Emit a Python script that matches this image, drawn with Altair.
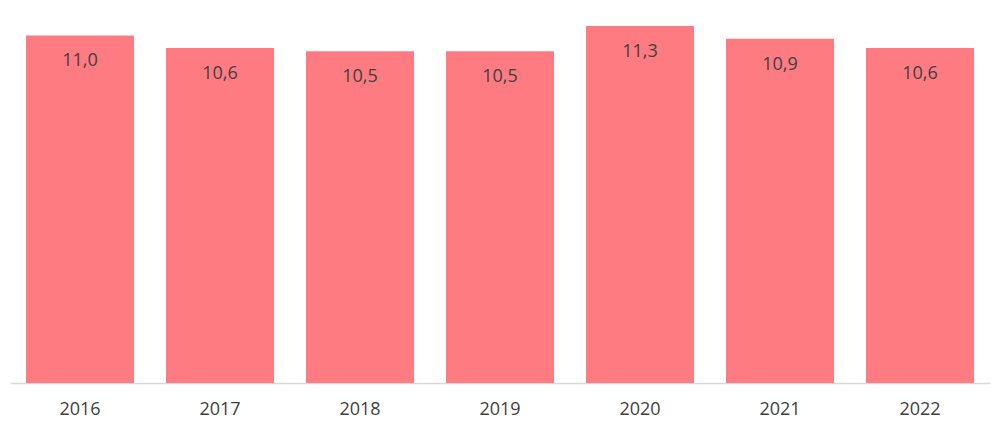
import altair as alt
import pandas as pd

years = ["2016", "2017", "2018", "2019", "2020", "2021", "2022"]
values = [11.0, 10.6, 10.5, 10.5, 11.3, 10.9, 10.6]
labels = ["11,0", "10,6", "10,5", "10,5", "11,3", "10,9", "10,6"]

df = pd.DataFrame({"year": years, "value": values, "label": labels})

x = alt.X("year:N", title=None, sort=years,
          scale=alt.Scale(paddingInner=0.2286, paddingOuter=0.1143),
          axis=alt.Axis(labelAngle=0, ticks=False, domainColor="#D9D9D9", domainWidth=1.5,
                        labelFont="Open Sans", labelFontSize=18, labelColor="#404040",
                        labelPadding=17))
y = alt.Y("value:Q", title=None, scale=alt.Scale(domain=[0, 11.3], nice=False, zero=True),
          axis=None)

bars = alt.Chart(df).mark_bar(color="#FF7B82").encode(x=x, y=y)
text = alt.Chart(df).mark_text(baseline="top", dy=17, font="Open Sans", fontSize=18,
                               color="#404040").encode(x=x, y=y, text="label:N")

chart = (bars + text).properties(
    width=980, height=357,
    background="white",
    autosize=alt.AutoSizeParams(type="none"),
    padding={"left": 2, "top": 18, "right": 2, "bottom": 40},
).configure_view(strokeWidth=0, stroke=None)

chart.save("out.html", embed_options={"renderer": "svg", "actions": False})
